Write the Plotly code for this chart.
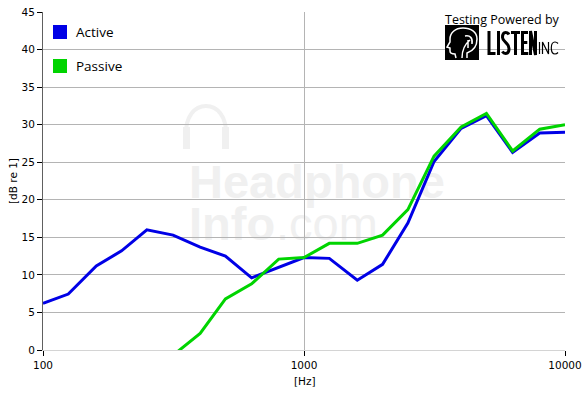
import plotly.graph_objects as go

# ---- data ----
freq = [100, 125, 160, 200, 250, 315, 400, 500, 630, 800, 1000, 1250, 1600,
        2000, 2500, 3150, 4000, 5000, 6300, 8000, 10000]
active = [6.2, 7.45, 11.2, 13.2, 16.0, 15.3, 13.7, 12.5, 9.6, 11.0, 12.3, 12.2,
          9.3, 11.4, 16.9, 25.1, 29.5, 31.2, 26.3, 28.9, 29.0]
passive_freq = [315, 400, 500, 630, 800, 1000, 1250, 1600, 2000, 2500, 3150,
                4000, 5000, 6300, 8000, 10000]
passive = [-0.7, 2.2, 6.8, 8.8, 12.1, 12.3, 14.2, 14.2, 15.3, 18.7, 25.8,
           29.7, 31.5, 26.5, 29.4, 30.0]
x_ticks = [100, 1000, 10000]
x_tick_labels = ["100", "1000", "10000"]
y_ticks = [0, 5, 10, 15, 20, 25, 30, 35, 40, 45]

BLUE = "#0000e6"
GREEN = "#00d400"

W, H = 583, 395
L, R, T, B = 43, 18, 12, 45
PW, PH = W - L - R, H - T - B


def px(x):
    return (x - L) / PW


def py(y):
    return (H - B - y) / PH


def path(cmds):
    """cmds: list of tokens, numbers given as (x, y) pixel tuples"""
    out = []
    for c in cmds:
        if isinstance(c, tuple):
            out.append(f"{px(c[0]):.5f},{py(c[1]):.5f}")
        else:
            out.append(c)
    return " ".join(out)


fig = go.Figure()
fig.add_trace(go.Scatter(x=freq, y=active, mode="lines", name="Active",
                         line=dict(color=BLUE, width=3), showlegend=False))
fig.add_trace(go.Scatter(x=passive_freq, y=passive, mode="lines", name="Passive",
                         line=dict(color=GREEN, width=3), showlegend=False))

shapes = []
annotations = []

# ---- watermark (below grid) ----
WM = "#f0f0f0"
WMF = "Liberation Sans"


def wm_text(x0, x1, y0, y1, text, bold):
    shapes.append(dict(type="rect", xref="paper", yref="paper",
                       x0=px(x0), x1=px(x1), y0=py(y1), y1=py(y0),
                       line=dict(width=0), fillcolor="rgba(0,0,0,0)", layer="below",
                       label=dict(text=text, textposition="middle left", padding=0,
                                  font=dict(family=WMF, size=47, color=WM,
                                            weight="bold" if bold else "normal"))))


wm_text(186, 460, 158, 196, "Headphone", True)
wm_text(186, 280, 200, 238, "Info", True)
wm_text(273, 400, 200, 238, ".com", False)
# headphone icon
shapes.append(dict(type="path", xref="paper", yref="paper", layer="below",
                   path=path(["M", (186, 136), "C", (185, 116), (195, 106), (206, 106),
                              "C", (217, 106), (227, 116), (226, 136)]),
                   line=dict(color=WM, width=4)))
for (a, b) in [(183, 190), (222, 229)]:
    shapes.append(dict(type="rect", xref="paper", yref="paper", layer="below",
                       x0=px(a), x1=px(b), y0=py(149), y1=py(127),
                       line=dict(width=0), fillcolor=WM))

# ---- logo ----
annotations.append(dict(text="Testing Powered by", xref="paper", yref="paper",
                        x=px(562), y=py(19), xanchor="right", yanchor="middle",
                        showarrow=False, font=dict(family="Open Sans", size=12.5,
                                                   color="#000000")))
shapes.append(dict(type="rect", xref="paper", yref="paper",
                   x0=px(445), x1=px(479), y0=py(60), y1=py(25),
                   line=dict(width=0), fillcolor="#000000"))
shapes.append(dict(type="path", xref="paper", yref="paper",
                   path=path(["M", (467, 58), "L", (467, 53), "C", (473, 51), (477, 46), (477, 39),
                              "C", (477, 32), (471, 28), (463, 28), "C", (455, 28), (450, 33), (450, 39),
                              "L", (450, 42), "L", (447, 47), "L", (450, 48), "L", (450, 51),
                              "C", (450, 53), (452, 54), (455, 54), "L", (456, 58)]),
                   line=dict(color="#ffffff", width=1.5)))
shapes.append(dict(type="path", xref="paper", yref="paper",
                   path=path(["M", (462, 58), "C", (462, 50), (465, 44), (470, 40),
                              "M", (465, 36), "C", (470, 35), (473, 38), (472, 44),
                              "M", (468, 40), "L", (468, 48)]),
                   line=dict(color="#ffffff", width=1.5)))
SW = 3.0
letters = [
    ["M", (489, 31), "L", (489, 53.5), "L", (495.5, 53.5)],
    ["M", (498.5, 31), "L", (498.5, 55)],
    ["M", (509, 34.5), "C", (508, 33), (507, 32.5), (505.5, 32.5),
     "C", (503, 32.5), (502.5, 35), (502.5, 37.5),
     "C", (502.5, 42), (509, 42.5), (509, 48.5),
     "C", (509, 51.5), (508, 53.5), (505.5, 53.5),
     "C", (504, 53.5), (503, 52.5), (502.3, 51.5)],
    ["M", (511, 32.5), "L", (520, 32.5), "M", (515.5, 32.5), "L", (515.5, 55)],
    ["M", (528, 32.5), "L", (522.5, 32.5), "L", (522.5, 53.5), "L", (528.3, 53.5),
     "M", (522.5, 42.5), "L", (527.3, 42.5)],
    ["M", (530.5, 55), "L", (530.5, 31), "L", (535.5, 55), "L", (535.5, 31)],
]
for lt in letters:
    shapes.append(dict(type="path", xref="paper", yref="paper", path=path(lt),
                       line=dict(color="#000000", width=SW)))
inc = [
    ["M", (539.5, 42), "L", (539.5, 54)],
    ["M", (542.5, 54), "L", (542.5, 42), "L", (548.5, 54), "L", (548.5, 42)],
    ["M", (558, 43.5), "C", (557, 42.3), (556, 42), (555, 42), "C", (552, 42), (551.3, 45), (551.3, 48),
     "C", (551.3, 51), (552, 54), (555, 54), "C", (556, 54), (557, 53.7), (558, 52.5)],
]
for lt in inc:
    shapes.append(dict(type="path", xref="paper", yref="paper", path=path(lt),
                       line=dict(color="#000000", width=1.2)))

# ---- legend (manual squares) ----
for (name, col, yc) in [("Active", BLUE, 32), ("Passive", GREEN, 66)]:
    shapes.append(dict(type="rect", xref="paper", yref="paper",
                       x0=px(53), x1=px(67), y0=py(yc + 7), y1=py(yc - 7),
                       line=dict(width=0), fillcolor=col))
    annotations.append(dict(text=name, xref="paper", yref="paper", x=px(74), y=py(yc),
                            xanchor="left", yanchor="middle", showarrow=False,
                            font=dict(family="Open Sans", size=13.5, color="#000000")))

tickfont = dict(family="DejaVu Sans", size=10.5, color="#000000")

# axis titles
annotations.append(dict(text="[dB re 1]", xref="paper", yref="paper", x=px(13), y=py(181),
                        xanchor="center", yanchor="middle", textangle=-90, showarrow=False,
                        font=tickfont))
annotations.append(dict(text="[Hz]", xref="paper", yref="paper", x=px(305), y=py(381),
                        xanchor="center", yanchor="middle", showarrow=False,
                        font=tickfont))

fig.update_layout(
    width=W, height=H, autosize=False,
    margin=dict(l=L, r=R, t=T, b=B, pad=0),
    paper_bgcolor="#ffffff", plot_bgcolor="#ffffff",
    showlegend=False,
    shapes=shapes, annotations=annotations,
    xaxis=dict(type="log", range=[2, 4], tickvals=x_ticks, ticktext=x_tick_labels,
               automargin=False,
               showgrid=True, gridcolor="#b4b4b4", gridwidth=1,
               showline=True, linecolor="#d4d4d4", linewidth=1,
               ticks="outside", ticklen=5, tickcolor="#000000", tickwidth=1,
               tickfont=tickfont, zeroline=False),
    yaxis=dict(range=[0, 45], tickvals=y_ticks, showgrid=True, gridcolor="#b4b4b4",
               automargin=False,
               gridwidth=1, showline=True, linecolor="#606060", linewidth=1,
               ticks="outside", ticklen=5, tickcolor="#000000", tickwidth=1,
               tickfont=tickfont, zeroline=False),
)

fig.write_html("out.html", config={"displayModeBar": False},
               post_script="document.body.style.margin='0px';"
                           "document.body.style.overflow='hidden';")
